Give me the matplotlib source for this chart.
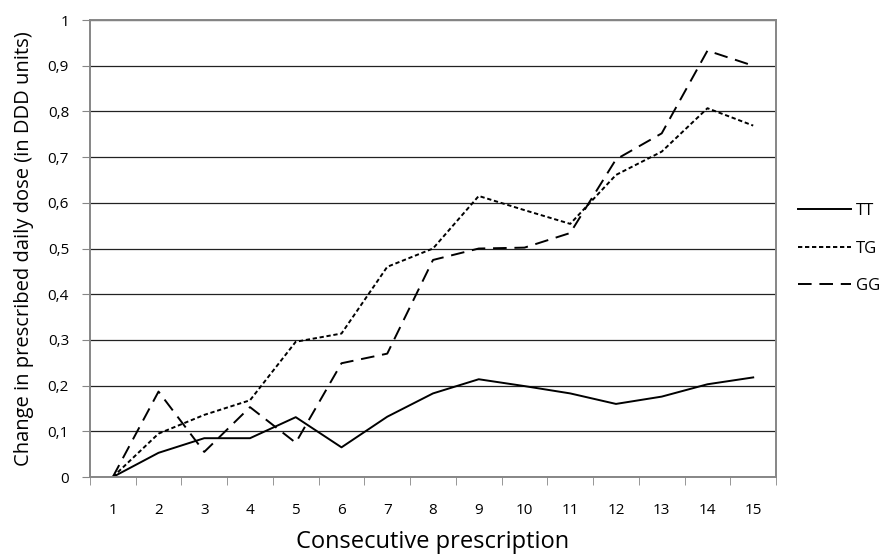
import numpy as np
import matplotlib.pyplot as plt

plt.rcParams['font.family'] = ['Open Sans', 'DejaVu Sans']

# data
prescription = list(range(1, 16))
tt = [0, 0.053, 0.085, 0.085, 0.131, 0.065, 0.132, 0.183, 0.214, 0.199, 0.183, 0.160, 0.176, 0.203, 0.218]
tg = [0, 0.095, 0.136, 0.168, 0.296, 0.314, 0.460, 0.500, 0.615, 0.584, 0.554, 0.661, 0.712, 0.807, 0.769]
gg = [0, 0.187, 0.055, 0.153, 0.075, 0.249, 0.270, 0.475, 0.500, 0.502, 0.534, 0.695, 0.752, 0.933, 0.900]
yticks = [0, 0.1, 0.2, 0.3, 0.4, 0.5, 0.6, 0.7, 0.8, 0.9, 1]
ylabels = ['0', '0,1', '0,2', '0,3', '0,4', '0,5', '0,6', '0,7', '0,8', '0,9', '1']

fig = plt.figure(figsize=(8.9, 5.56), dpi=100)
ax = fig.add_axes([0.101, 0.142, 0.771, 0.822])

ax.plot(prescription, tt, color='black', lw=1.4, ls='-', label='TT')
ax.plot(prescription, tg, color='black', lw=1.4, ls=(0, (2.2, 1.4)), label='TG')
ax.plot(prescription, gg, color='black', lw=1.4, ls=(0, (7, 4)), label='GG')

ax.set_xlim(0.5, 15.5)
ax.set_ylim(0, 1)
ax.set_yticks(yticks)
ax.set_yticklabels(ylabels)
ax.set_xticks(prescription)
ax.set_xticks(np.arange(0.5, 16, 1), minor=True)
ax.tick_params(axis='x', which='major', length=0, pad=19, labelsize=11)
ax.tick_params(axis='x', which='minor', length=6, color='#868686', direction='out')
ax.tick_params(axis='y', length=6, color='#868686', labelsize=11, pad=9)

ax.grid(axis='y', color='#222222', lw=0.9)
ax.set_axisbelow(True)
for s in ['left', 'bottom', 'right', 'top']:
    ax.spines[s].set_color('#868686')
    ax.spines[s].set_linewidth(1.4)

ax.set_xlabel('Consecutive prescription', fontsize=17, labelpad=8)
ax.set_ylabel('Change in prescribed daily dose (in DDD units)', fontsize=14.5, labelpad=10)

ax.legend(loc='center left', bbox_to_anchor=(1.01, 0.5), frameon=False,
          handlelength=3.2, handletextpad=0.3, fontsize=12, labelspacing=1.3)

fig.savefig('out.png', dpi=100)
